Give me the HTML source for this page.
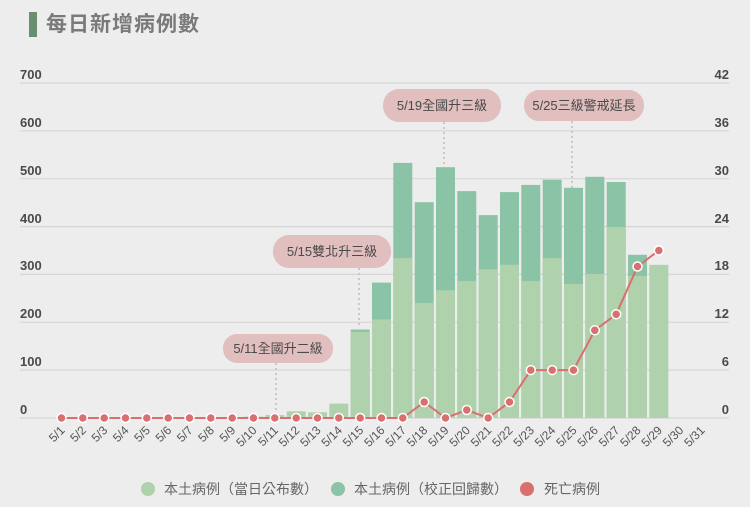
<!DOCTYPE html>
<html><head><meta charset="utf-8"><style>
html,body{margin:0;padding:0;background:#ededed;}
svg{display:block;font-family:"Liberation Sans","Noto Sans CJK TC",sans-serif;}
</style></head><body>
<svg width="750" height="507" viewBox="0 0 750 507" xmlns="http://www.w3.org/2000/svg">
<rect width="750" height="507" fill="#ededed"/>
<rect x="29" y="12" width="8" height="25" fill="#6b8f6e"/>
<text x="46" y="31" font-size="21" font-weight="bold" fill="#7a7a7a" letter-spacing="1">每日新增病例數</text>
<g stroke="#d6d6d6" stroke-width="1.2">
<line x1="20" x2="729" y1="83" y2="83"/><line x1="20" x2="729" y1="130.8" y2="130.8"/><line x1="20" x2="729" y1="178.7" y2="178.7"/><line x1="20" x2="729" y1="226.6" y2="226.6"/><line x1="20" x2="729" y1="274.4" y2="274.4"/><line x1="20" x2="729" y1="322.3" y2="322.3"/><line x1="20" x2="729" y1="370.1" y2="370.1"/><line x1="20" x2="729" y1="418" y2="418"/>
</g>
<g font-size="13" font-weight="bold" fill="#4a4a4a">
<text x="20" y="79">700</text><text x="20" y="127">600</text><text x="20" y="175">500</text><text x="20" y="223">400</text><text x="20" y="270">300</text><text x="20" y="318">200</text><text x="20" y="366">100</text><text x="20" y="414">0</text>
</g>
<g font-size="13" font-weight="bold" fill="#4a4a4a" text-anchor="end">
<text x="729" y="79">42</text><text x="729" y="127">36</text><text x="729" y="175">30</text><text x="729" y="223">24</text><text x="729" y="270">18</text><text x="729" y="318">12</text><text x="729" y="366">6</text><text x="729" y="414">0</text>
</g>
<g stroke="#c8c8c8" stroke-width="2" stroke-dasharray="2,3">
<line x1="276" y1="363" x2="276" y2="418"/>
<line x1="359" y1="268" x2="359" y2="326"/>
<line x1="444" y1="122" x2="444" y2="174"/>
<line x1="572" y1="121" x2="572" y2="188"/>
</g>
<g fill="#8ac3a5">
<rect x="350.7" y="329.5" width="19" height="88.5"/>
<rect x="372.0" y="282.6" width="19" height="135.4"/>
<rect x="393.3" y="162.9" width="19" height="255.1"/>
<rect x="414.7" y="202.2" width="19" height="215.8"/>
<rect x="436.0" y="167.2" width="19" height="250.8"/>
<rect x="457.3" y="191.1" width="19" height="226.9"/>
<rect x="478.7" y="215.1" width="19" height="202.9"/>
<rect x="500.0" y="192.1" width="19" height="225.9"/>
<rect x="521.3" y="184.9" width="19" height="233.1"/>
<rect x="542.7" y="179.7" width="19" height="238.3"/>
<rect x="564.0" y="187.8" width="19" height="230.2"/>
<rect x="585.3" y="176.8" width="19" height="241.2"/>
<rect x="606.7" y="182.0" width="19" height="236.0"/>
<rect x="628.0" y="254.8" width="19" height="163.2"/>
</g>
<g fill="#afd1ac">
<rect x="222.7" y="417.5" width="19" height="0.5"/>
<rect x="244.0" y="416.6" width="19" height="1.4"/>
<rect x="265.3" y="415.1" width="19" height="2.9"/>
<rect x="286.7" y="411.3" width="19" height="6.7"/>
<rect x="308.0" y="412.3" width="19" height="5.7"/>
<rect x="329.3" y="403.6" width="19" height="14.4"/>
<rect x="350.7" y="331.9" width="19" height="86.1"/>
<rect x="372.0" y="319.4" width="19" height="98.6"/>
<rect x="393.3" y="258.1" width="19" height="159.9"/>
<rect x="414.7" y="303.1" width="19" height="114.9"/>
<rect x="436.0" y="290.2" width="19" height="127.8"/>
<rect x="457.3" y="281.1" width="19" height="136.9"/>
<rect x="478.7" y="269.2" width="19" height="148.8"/>
<rect x="500.0" y="264.8" width="19" height="153.2"/>
<rect x="521.3" y="281.1" width="19" height="136.9"/>
<rect x="542.7" y="258.1" width="19" height="159.9"/>
<rect x="564.0" y="284.0" width="19" height="134.0"/>
<rect x="585.3" y="273.9" width="19" height="144.1"/>
<rect x="606.7" y="227.0" width="19" height="191.0"/>
<rect x="628.0" y="275.9" width="19" height="142.1"/>
<rect x="649.3" y="264.8" width="19" height="153.2"/>
</g>
<polyline fill="none" stroke="#d9706f" stroke-width="2" points="61.5,418 82.8,418 104.2,418 125.5,418 146.8,418 168.2,418 189.5,418 210.8,418 232.2,418 253.5,418 274.8,418 296.2,418 317.5,418 338.8,418 360.2,418 381.5,418 402.8,418 424.2,402 445.5,418 466.8,410 488.2,418 509.5,402 530.8,370.1 552.2,370.1 573.5,370.1 594.8,330.3 616.2,314.3 637.5,266.5 658.8,250.5"/>
<g fill="#d9706f" stroke="#fff" stroke-width="1.5">
<circle cx="61.5" cy="418" r="4.5"/><circle cx="82.8" cy="418" r="4.5"/><circle cx="104.2" cy="418" r="4.5"/><circle cx="125.5" cy="418" r="4.5"/><circle cx="146.8" cy="418" r="4.5"/><circle cx="168.2" cy="418" r="4.5"/><circle cx="189.5" cy="418" r="4.5"/><circle cx="210.8" cy="418" r="4.5"/><circle cx="232.2" cy="418" r="4.5"/><circle cx="253.5" cy="418" r="4.5"/><circle cx="274.8" cy="418" r="4.5"/><circle cx="296.2" cy="418" r="4.5"/><circle cx="317.5" cy="418" r="4.5"/><circle cx="338.8" cy="418" r="4.5"/><circle cx="360.2" cy="418" r="4.5"/><circle cx="381.5" cy="418" r="4.5"/><circle cx="402.8" cy="418" r="4.5"/><circle cx="424.2" cy="402" r="4.5"/><circle cx="445.5" cy="418" r="4.5"/><circle cx="466.8" cy="410" r="4.5"/><circle cx="488.2" cy="418" r="4.5"/><circle cx="509.5" cy="402" r="4.5"/><circle cx="530.8" cy="370.1" r="4.5"/><circle cx="552.2" cy="370.1" r="4.5"/><circle cx="573.5" cy="370.1" r="4.5"/><circle cx="594.8" cy="330.3" r="4.5"/><circle cx="616.2" cy="314.3" r="4.5"/><circle cx="637.5" cy="266.5" r="4.5"/><circle cx="658.8" cy="250.5" r="4.5"/>
</g>
<g fill="#e2bfbf">
<rect x="223" y="334" width="110" height="29" rx="14"/>
<rect x="273" y="235" width="118" height="33" rx="16"/>
<rect x="383" y="89" width="118" height="33" rx="16"/>
<rect x="524" y="90" width="120" height="31" rx="15"/>
</g>
<g font-size="13" fill="#4a4a4a" text-anchor="middle">
<text x="278" y="353">5/11全國升二級</text>
<text x="332" y="256">5/15雙北升三級</text>
<text x="442" y="110">5/19全國升三級</text>
<text x="584" y="110">5/25三級警戒延長</text>
</g>
<g font-size="12" fill="#555" text-anchor="end">
<text x="65.5" y="431" transform="rotate(-45 65.5 431)">5/1</text>
<text x="86.8" y="431" transform="rotate(-45 86.8 431)">5/2</text>
<text x="108.2" y="431" transform="rotate(-45 108.2 431)">5/3</text>
<text x="129.5" y="431" transform="rotate(-45 129.5 431)">5/4</text>
<text x="150.8" y="431" transform="rotate(-45 150.8 431)">5/5</text>
<text x="172.2" y="431" transform="rotate(-45 172.2 431)">5/6</text>
<text x="193.5" y="431" transform="rotate(-45 193.5 431)">5/7</text>
<text x="214.8" y="431" transform="rotate(-45 214.8 431)">5/8</text>
<text x="236.2" y="431" transform="rotate(-45 236.2 431)">5/9</text>
<text x="257.5" y="431" transform="rotate(-45 257.5 431)">5/10</text>
<text x="278.8" y="431" transform="rotate(-45 278.8 431)">5/11</text>
<text x="300.2" y="431" transform="rotate(-45 300.2 431)">5/12</text>
<text x="321.5" y="431" transform="rotate(-45 321.5 431)">5/13</text>
<text x="342.8" y="431" transform="rotate(-45 342.8 431)">5/14</text>
<text x="364.2" y="431" transform="rotate(-45 364.2 431)">5/15</text>
<text x="385.5" y="431" transform="rotate(-45 385.5 431)">5/16</text>
<text x="406.8" y="431" transform="rotate(-45 406.8 431)">5/17</text>
<text x="428.2" y="431" transform="rotate(-45 428.2 431)">5/18</text>
<text x="449.5" y="431" transform="rotate(-45 449.5 431)">5/19</text>
<text x="470.8" y="431" transform="rotate(-45 470.8 431)">5/20</text>
<text x="492.2" y="431" transform="rotate(-45 492.2 431)">5/21</text>
<text x="513.5" y="431" transform="rotate(-45 513.5 431)">5/22</text>
<text x="534.8" y="431" transform="rotate(-45 534.8 431)">5/23</text>
<text x="556.2" y="431" transform="rotate(-45 556.2 431)">5/24</text>
<text x="577.5" y="431" transform="rotate(-45 577.5 431)">5/25</text>
<text x="598.8" y="431" transform="rotate(-45 598.8 431)">5/26</text>
<text x="620.2" y="431" transform="rotate(-45 620.2 431)">5/27</text>
<text x="641.5" y="431" transform="rotate(-45 641.5 431)">5/28</text>
<text x="662.8" y="431" transform="rotate(-45 662.8 431)">5/29</text>
<text x="684.2" y="431" transform="rotate(-45 684.2 431)">5/30</text>
<text x="705.5" y="431" transform="rotate(-45 705.5 431)">5/31</text>
</g>
<circle cx="148" cy="489" r="7" fill="#afd1ac"/>
<text x="164" y="494" font-size="14" fill="#666">本土病例（當日公布數）</text>
<circle cx="338" cy="489" r="7" fill="#8ac3a5"/>
<text x="354" y="494" font-size="14" fill="#666">本土病例（校正回歸數）</text>
<circle cx="527" cy="489" r="7" fill="#d9706f"/>
<text x="544" y="494" font-size="14" fill="#666">死亡病例</text>
</svg>
</body></html>
